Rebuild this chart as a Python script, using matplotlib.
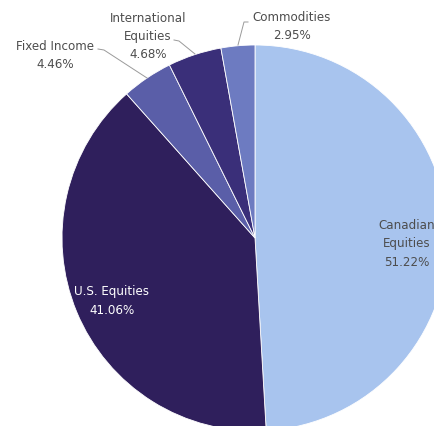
import matplotlib
matplotlib.use("Agg")
import matplotlib.pyplot as plt

# portfolio allocation (values as printed; pie normalises them)
labels = ["Canadian\nEquities", "U.S. Equities", "Fixed Income", "International\nEquities", "Commodities"]
values = [51.22, 41.06, 4.46, 4.68, 2.95]
colors = ["#A8C4EE", "#2F1F5C", "#5A5EA8", "#3A2F79", "#6D7BC1"]

W, H = 435, 426
TXT = "#4D4D4D"
plt.rcParams["font.family"] = "DejaVu Sans"

fig = plt.figure(figsize=(W / 100, H / 100), dpi=100)
ax = fig.add_axes([0, 0, 1, 1])

def Y(py): return H - py  # pixel row -> data y

cx, cy, r = 255, 238, 193
ax.pie(values, colors=colors, startangle=90, counterclock=False,
       center=(cx, Y(cy)), radius=r, frame=True,
       wedgeprops={"edgecolor": "white", "linewidth": 0.6})
ax.set_xlim(0, W); ax.set_ylim(0, H); ax.set_aspect("equal"); ax.axis("off")

fs = 8.6
def lab(x, y, s, c=TXT):
    ax.text(x, Y(y), s, ha="center", va="center", fontsize=fs, color=c, linespacing=1.5)

lab(407, 244, f"{labels[0]}\n{values[0]:.2f}%")
lab(112, 301, f"{labels[1]}\n{values[1]:.2f}%", c="white")
lab(55, 55, f"{labels[2]}\n{values[2]:.2f}%")
lab(148, 36, f"{labels[3]}\n{values[3]:.2f}%")
lab(292, 26, f"{labels[4]}\n{values[4]:.2f}%")

# leader lines
lc = "#9A9A9A"
for pts in [[(98, 49), (104, 50), (147, 78)],
            [(174, 40), (179, 41), (195, 54)],
            [(248, 22), (244, 22), (238, 45)]]:
    ax.plot([p[0] for p in pts], [Y(p[1]) for p in pts], color=lc, lw=0.7)

fig.savefig("out.png", dpi=100, facecolor="white")
